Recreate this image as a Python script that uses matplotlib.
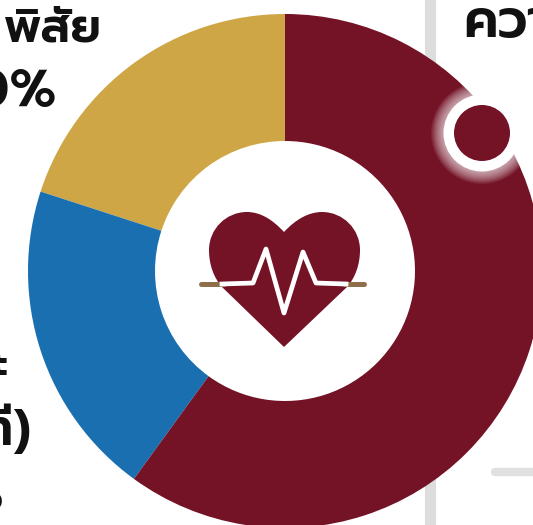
import matplotlib
matplotlib.use("Agg")
import matplotlib.pyplot as plt
from matplotlib.patches import Circle, PathPatch
from matplotlib.path import Path

# slices, counter clockwise from 12 o'clock
shares = [20, 20, 60]
colors = ["#cfa645", "#1a6fb0", "#741226"]

W, H = 533, 525

def fy(y):
    # picture y (down) to axes y (up)
    return H - y

fig = plt.figure(figsize=(W / 100, H / 100), dpi=100)
ax = fig.add_axes([0, 0, 1, 1])

#--- grey divider lines behind the ring
ax.plot([430, 430], [fy(-5), fy(60)], color="#dddddd", linewidth=8, zorder=1)
ax.plot([430, 430], [fy(480), fy(530)], color="#dddddd", linewidth=8, zorder=1)
ax.plot([495, 540], [fy(472), fy(472)], color="#e0e0e0", linewidth=6, solid_capstyle="round", zorder=1)

#--- the ring
ax.pie(shares, colors=colors, startangle=90, counterclock=True, radius=257,
       center=(285, fy(271)), wedgeprops=dict(width=127, linewidth=0))
for patch in ax.patches:
    patch.set_zorder(2)

#--- heart icon
heart = Path(
    [(284, fy(232)),
     (272, fy(219)), (260, fy(212)), (247, fy(212)),
     (226, fy(212)), (209, fy(229)), (209, fy(250)),
     (209, fy(265)), (214, fy(278)), (222, fy(287)),
     (284, fy(347)),
     (347, fy(287)),
     (355, fy(278)), (360, fy(265)), (360, fy(250)),
     (360, fy(229)), (343, fy(212)), (322, fy(212)),
     (309, fy(212)), (296, fy(219)), (284, fy(232))],
    [Path.MOVETO] + [Path.CURVE4] * 9 + [Path.LINETO] * 2 + [Path.CURVE4] * 9)
ax.add_patch(PathPatch(heart, facecolor="#741226", edgecolor="none", zorder=3))

#--- pulse line, tan ends under the white trace
ax.plot([201, 224], [fy(284), fy(284)], color="#8f6f4a", linewidth=3.6, solid_capstyle="round", zorder=4)
ax.plot([344, 364], [fy(284), fy(284)], color="#8f6f4a", linewidth=3.6, solid_capstyle="round", zorder=4)
pulse_x = [222, 253, 266, 284, 303, 316, 346]
pulse_y = [284, 283, 249, 313, 252, 283, 284]
ax.plot(pulse_x, [fy(v) for v in pulse_y], color="white", linewidth=3.4,
        solid_joinstyle="round", zorder=5)

#--- marker dot on the ring, with soft glow
cx, cy = 482, fy(133)
for r in range(39, 52):
    ax.add_patch(Circle((cx, cy), r, facecolor="white", edgecolor="none", alpha=0.07, zorder=6))
ax.add_patch(Circle((cx, cy), 38.5, facecolor="white", edgecolor="none", zorder=7))
ax.add_patch(Circle((cx, cy), 28, facecolor="#741226", edgecolor="none", zorder=8))

#--- labels, all cut off by the edge of the picture
font = dict(family="Prompt", fontweight=600, color="#111111", zorder=9, clip_on=True)
ax.text(102, fy(42), "พิสัย", ha="right", va="baseline", fontsize=34, **font)
ax.text(57, fy(106), "20%", ha="right", va="baseline", fontsize=38, **font)
ax.text(9, fy(378), "ละ", ha="right", va="baseline", fontsize=32, **font)
ax.text(31, fy(445), "(นาที)", ha="right", va="baseline", fontsize=36, **font)
ax.text(3, fy(510), "ว", ha="right", va="baseline", fontsize=24, **font)
ax.text(463, fy(37), "ความ", ha="left", va="baseline", fontsize=38, **font)

ax.set_xlim(0, W)
ax.set_ylim(0, H)
ax.set_aspect("auto")
ax.axis("off")

fig.savefig("out.png", dpi=100, facecolor="white")
plt.close()
